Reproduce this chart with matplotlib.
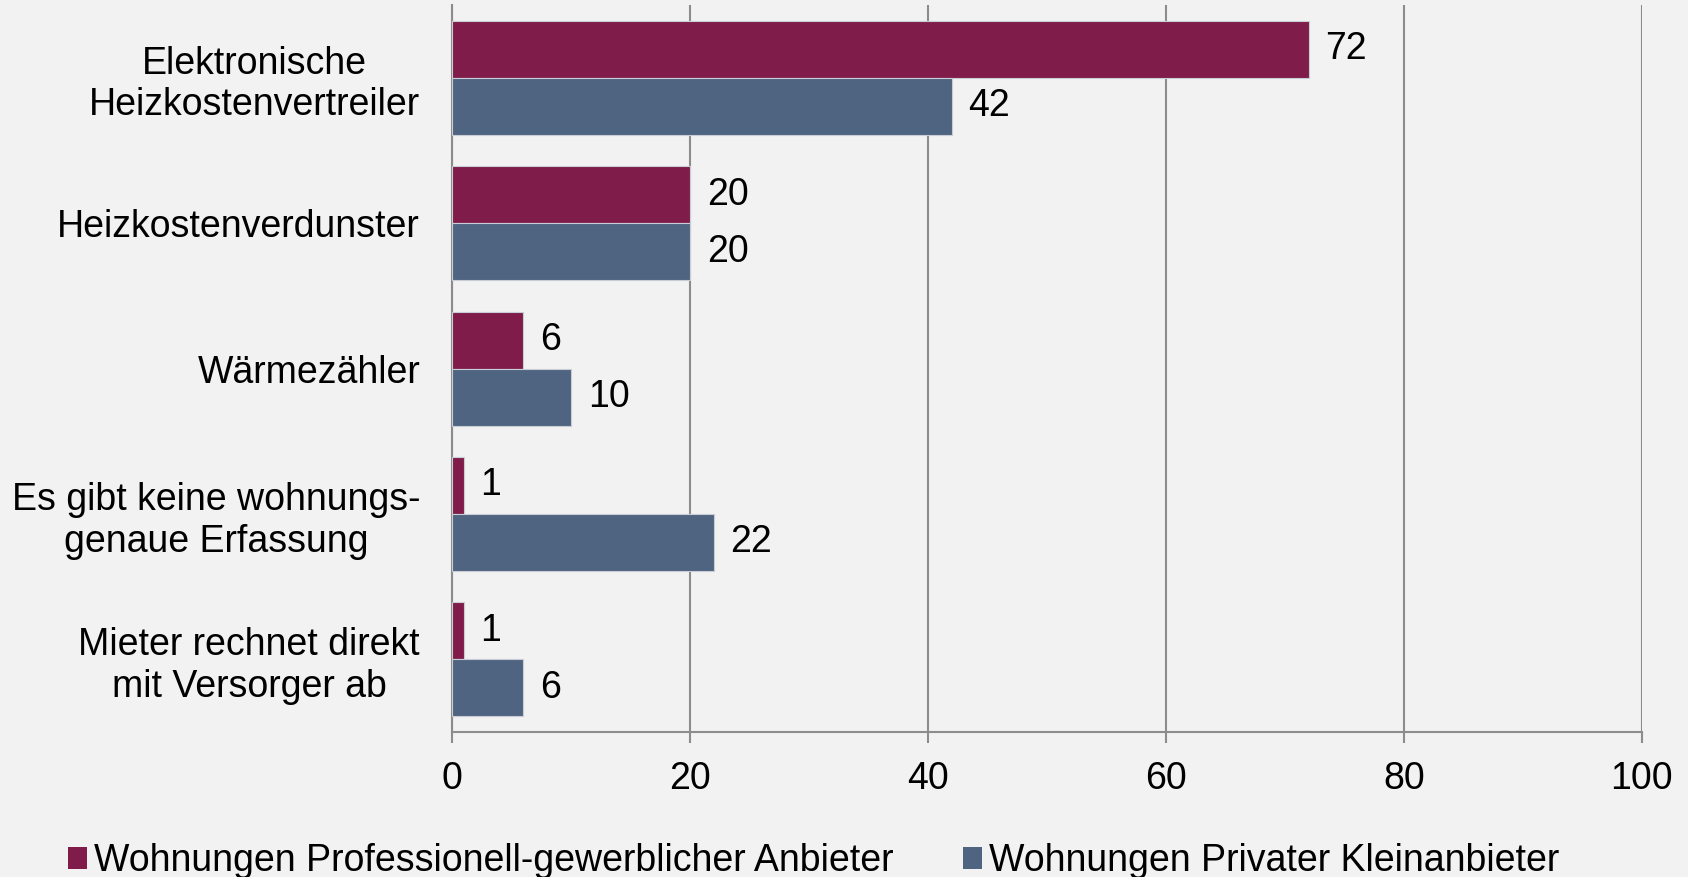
import numpy as np
import matplotlib
matplotlib.use("Agg")
import matplotlib.pyplot as plt
from matplotlib.patches import Patch

plt.rcParams["font.family"] = ["Liberation Sans", "DejaVu Sans"]

# Daten
kategorien = [
    "Elektronische\nHeizkostenvertreiler",
    "Heizkostenverdunster",
    "Wärmezähler",
    "Es gibt keine wohnungs-\ngenaue Erfassung",
    "Mieter rechnet direkt\nmit Versorger ab",
]
professionell = [72, 20, 6, 1, 1]
privat = [42, 20, 10, 22, 6]
serien = ["Wohnungen Professionell-gewerblicher Anbieter", "Wohnungen Privater Kleinanbieter"]
x_ticks = [0, 20, 40, 60, 80, 100]

farbe_prof = "#7F1C4A"
farbe_priv = "#4F6480"
bg = "#F2F2F2"
grid_col = "#8C8C8C"
fs = 27

fig = plt.figure(figsize=(16.88, 8.77), dpi=100, facecolor=bg)
ax = fig.add_axes([0.2678, 0.1653, 0.7049, 0.829], facecolor=bg)

y = np.arange(len(kategorien))
h = 0.392
ax.barh(y - h / 2, professionell, height=h, color=farbe_prof, edgecolor="#C9CDD6", linewidth=0.8, zorder=3)
ax.barh(y + h / 2, privat, height=h, color=farbe_priv, edgecolor="#C9CDD6", linewidth=0.8, zorder=3)

for i, (a, b) in enumerate(zip(professionell, privat)):
    ax.annotate(str(a), (a, i - h / 2), xytext=(12, 0), textcoords="offset points",
                va="center", ha="left", fontsize=fs)
    ax.annotate(str(b), (b, i + h / 2), xytext=(12, 0), textcoords="offset points",
                va="center", ha="left", fontsize=fs)

ax.set_xlim(0, 100)
ax.set_ylim(len(kategorien) - 0.5, -0.5)
ax.set_xticks(x_ticks)
ax.set_xticklabels([str(t) for t in x_ticks], fontsize=fs)
ax.set_yticks(y)
ax.set_yticklabels(kategorien, fontsize=fs, multialignment="center", linespacing=1.2)
ax.tick_params(axis="y", length=0, pad=23)
ax.tick_params(axis="x", length=8, width=1.5, color=grid_col, pad=13)
ax.xaxis.grid(True, color=grid_col, linewidth=1.5, zorder=0)

for s in ["top", "right"]:
    ax.spines[s].set_visible(False)
for s in ["left", "bottom"]:
    ax.spines[s].set_color(grid_col)
    ax.spines[s].set_linewidth(1.5)

handles = [Patch(facecolor=farbe_prof), Patch(facecolor=farbe_priv)]
fig.legend(handles, serien, loc="center", bbox_to_anchor=(0.482, 0.018), ncol=2,
           frameon=False, fontsize=fs, handlelength=0.5, handleheight=0.5,
           handletextpad=0.2, columnspacing=1.85, borderaxespad=0)

fig.savefig("out.png", dpi=100, facecolor=bg)
